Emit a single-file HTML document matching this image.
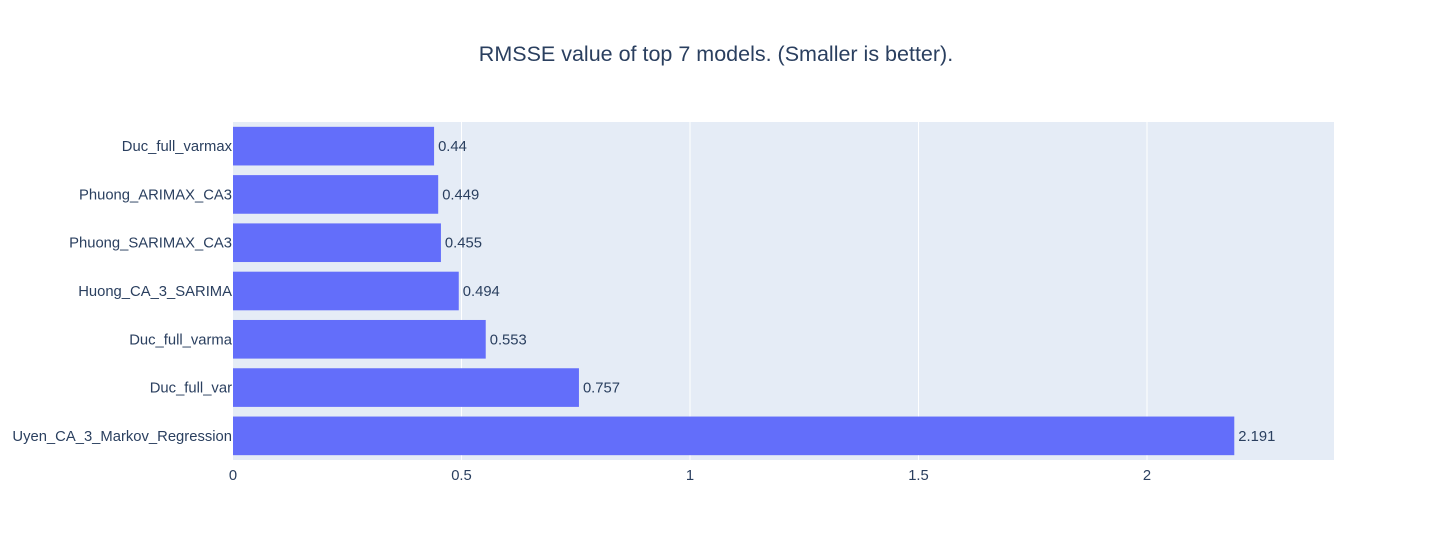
<!DOCTYPE html>
<html><head><meta charset="utf-8"><style>
html,body{margin:0;padding:0;background:#fff;}
svg{display:block;font-family:"Liberation Sans",sans-serif;}
</style></head><body>
<svg id="chart" width="1430" height="557">
<rect width="1430" height="557" fill="#fff"/>
<text x="716" y="61" text-anchor="middle" font-size="21.5" fill="#2a3f5f">RMSSE value of top 7 models. (Smaller is better).</text>
<rect x="233" y="122" width="1101" height="338" fill="#e5ecf6"/>
<g id="grid"></g><g id="bars"></g><g id="xticks"></g><g id="ylabels"></g>
</svg>
<script>
const categories = ["Duc_full_varmax","Phuong_ARIMAX_CA3","Phuong_SARIMAX_CA3","Huong_CA_3_SARIMA","Duc_full_varma","Duc_full_var","Uyen_CA_3_Markov_Regression"];
const values = [0.44,0.449,0.455,0.494,0.553,0.757,2.191];
const valueLabels = ["0.44","0.449","0.455","0.494","0.553","0.757","2.191"];
const xTicks = [0,0.5,1,1.5,2];
const xTickLabels = ["0","0.5","1","1.5","2"];
const NS="http://www.w3.org/2000/svg";
const L=233,R=1334,T=122,B=460,xMax=(R-L)/457;
const xs=v=>L+v/xMax*(R-L);
const band=(B-T)/categories.length;
const yc=i=>T+band*(i+0.5);
const FS=14.8;
function mk(t,a,p){const e=document.createElementNS(NS,t);for(const k in a)e.setAttribute(k,a[k]);p.appendChild(e);return e;}
const g=document.getElementById('grid'),b=document.getElementById('bars'),xt=document.getElementById('xticks'),yl=document.getElementById('ylabels');
xTicks.forEach((v,i)=>{
 if(v>0){const ln=mk('line',{x1:xs(v),x2:xs(v),y1:T,y2:B,stroke:'#fff','stroke-width':1},g);
 
 }
 const t=mk('text',{x:xs(v),y:B+20,'text-anchor':'middle','font-size':FS,fill:'#2a3f5f'},xt);t.textContent=xTickLabels[i];
 
 
});
categories.forEach((c,i)=>{
 const h=band*0.8;
 const r=mk('rect',{x:L,y:yc(i)-h/2,width:xs(values[i])-L,height:h,fill:'#636efa'},b);
 
 
 const vt=mk('text',{x:xs(values[i])+4,y:yc(i)+5,'font-size':FS,fill:'#2a3f5f'},b);vt.textContent=valueLabels[i];
 
 
 const t=mk('text',{x:L-1,y:yc(i)+5,'text-anchor':'end','font-size':FS,fill:'#2a3f5f'},yl);t.textContent=c;
 
 
});
</script>
</body></html>
